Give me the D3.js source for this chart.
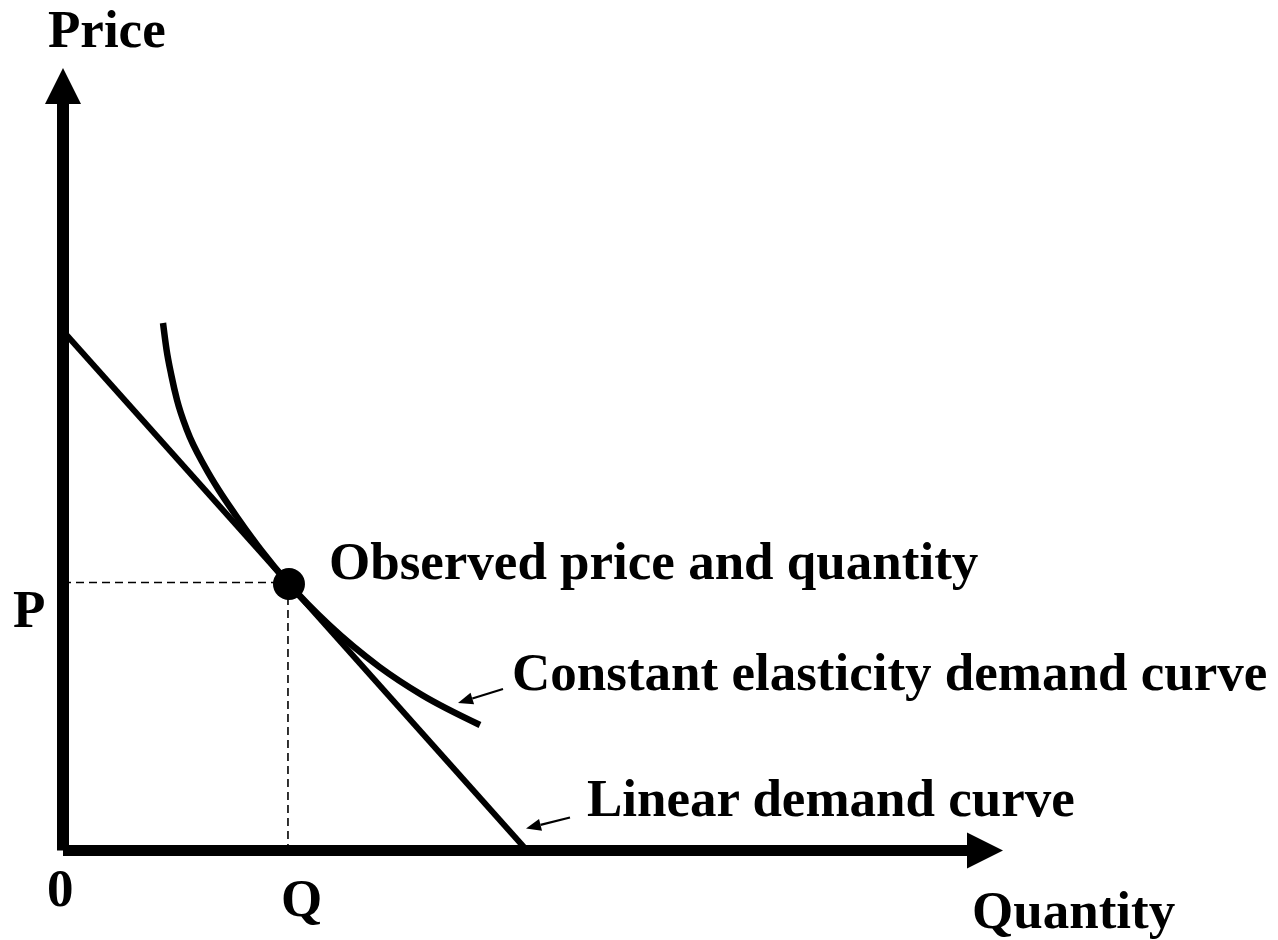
<!DOCTYPE html>
<html>
<head>
<meta charset="utf-8">
<script src="https://cdn.jsdelivr.net/npm/d3@7"></script>
<style>
  html, body { margin: 0; padding: 0; background: #fff; }
  svg { display: block; }
  text { font-family: "Liberation Serif", "Times New Roman", serif; font-weight: bold; fill: #000; }
</style>
</head>
<body>
<svg id="chart" width="1278" height="940"></svg>
<script>
// ---- data (abstract units: quantity 0..10, price 0..10) ----
const axisMax = [10, 10];
const linearDemand = [[0, 6.64], [4.936, 0]];
const observedPoint = [2.404, 3.406];
const constElasticityQ = [1.064, 1.102, 1.152, 1.213, 1.318, 1.511, 1.657, 1.851, 2.106, 2.404, 2.830, 3.367, 3.819, 4.436];
const constElasticityP = [6.741, 6.396, 6.077, 5.757, 5.374, 4.901, 4.607, 4.262, 3.840, 3.406, 2.882, 2.345, 1.987, 1.604];
const axisLabels = ["Price", "Quantity"];
const tickLabels = ["0", "P", "Q"];
const annotations = ["Observed price and quantity", "Constant elasticity demand curve", "Linear demand curve"];

const svg = d3.select("#chart");
const x = d3.scaleLinear().domain([0, axisMax[0]]).range([63, 1003]);
const y = d3.scaleLinear().domain([0, axisMax[1]]).range([850.5, 68]);

// dashed guides
svg.append("line")
  .attr("x1", x(0)).attr("x2", x(observedPoint[0]))
  .attr("y1", y(observedPoint[1]) - 1.5).attr("y2", y(observedPoint[1]) - 1.5)
  .attr("stroke", "#000").attr("stroke-width", 1.6).attr("stroke-dasharray", "8,5");
svg.append("line")
  .attr("x1", x(observedPoint[0]) - 1).attr("x2", x(observedPoint[0]) - 1)
  .attr("y1", y(observedPoint[1])).attr("y2", y(0))
  .attr("stroke", "#000").attr("stroke-width", 1.6).attr("stroke-dasharray", "8,5");

// axes
const arrowLen = 36, arrowHalf = 18;
svg.append("line")
  .attr("x1", x(0)).attr("x2", x(0))
  .attr("y1", y(0)).attr("y2", y(axisMax[1]) + arrowLen - 1)
  .attr("stroke", "#000").attr("stroke-width", 12);
svg.append("path")
  .attr("d", `M${x(0)},${y(axisMax[1])} L${x(0) - arrowHalf},${y(axisMax[1]) + arrowLen} L${x(0) + arrowHalf},${y(axisMax[1]) + arrowLen} Z`)
  .attr("fill", "#000");
svg.append("line")
  .attr("x1", x(0)).attr("x2", x(axisMax[0]) - arrowLen + 1)
  .attr("y1", y(0)).attr("y2", y(0))
  .attr("stroke", "#000").attr("stroke-width", 11);
svg.append("path")
  .attr("d", `M${x(axisMax[0])},${y(0)} L${x(axisMax[0]) - arrowLen},${y(0) - arrowHalf} L${x(axisMax[0]) - arrowLen},${y(0) + arrowHalf} Z`)
  .attr("fill", "#000");

// linear demand
svg.append("path").attr("d", d3.line().x(d => x(d[0])).y(d => y(d[1]))(linearDemand))
  .attr("fill", "none").attr("stroke", "#000").attr("stroke-width", 6);

// constant elasticity demand
const cePts = constElasticityQ.map((q, i) => [q, constElasticityP[i]]);
svg.append("path")
  .attr("d", d3.line().x(d => x(d[0])).y(d => y(d[1])).curve(d3.curveMonotoneX)(cePts))
  .attr("fill", "none").attr("stroke", "#000").attr("stroke-width", 6.5);

// observed point
svg.append("circle").attr("cx", x(observedPoint[0])).attr("cy", y(observedPoint[1]))
  .attr("r", 16).attr("fill", "#000");

// small annotation arrows
function arrow(x1, y1, x2, y2) {
  const ang = Math.atan2(y2 - y1, x2 - x1), L = 15, W = 6;
  const bx = x2 - L * Math.cos(ang), by = y2 - L * Math.sin(ang);
  svg.append("line").attr("x1", x1).attr("y1", y1).attr("x2", bx).attr("y2", by)
    .attr("stroke", "#000").attr("stroke-width", 2.2);
  svg.append("path").attr("d",
    `M${x2},${y2} L${bx + W * Math.sin(ang)},${by - W * Math.cos(ang)} L${bx - W * Math.sin(ang)},${by + W * Math.cos(ang)} Z`)
    .attr("fill", "#000");
}
const ceEnd = cePts[cePts.length - 1];
arrow(x(ceEnd[0]) + 23, y(ceEnd[1]) - 36, x(ceEnd[0]) - 22, y(ceEnd[1]) - 22);
arrow(x(linearDemand[1][0]) + 43, y(0) - 33, x(linearDemand[1][0]) - 1, y(0) - 22);

// texts
const fs = 53;
svg.append("text").attr("x", 48).attr("y", 47).attr("font-size", fs).text(axisLabels[0]);
svg.append("text").attr("x", 972).attr("y", 928).attr("font-size", fs).text(axisLabels[1]);
svg.append("text").attr("x", 47).attr("y", 906).attr("font-size", fs).text(tickLabels[0]);
svg.append("text").attr("x", 13).attr("y", 627).attr("font-size", fs).text(tickLabels[1]);
svg.append("text").attr("x", 281).attr("y", 916).attr("font-size", fs).text(tickLabels[2]);
svg.append("text").attr("x", 329).attr("y", 579).attr("font-size", fs).text(annotations[0]);
svg.append("text").attr("x", 512).attr("y", 690).attr("font-size", fs).text(annotations[1]);
svg.append("text").attr("x", 587).attr("y", 816).attr("font-size", fs).text(annotations[2]);
</script>
</body>
</html>
